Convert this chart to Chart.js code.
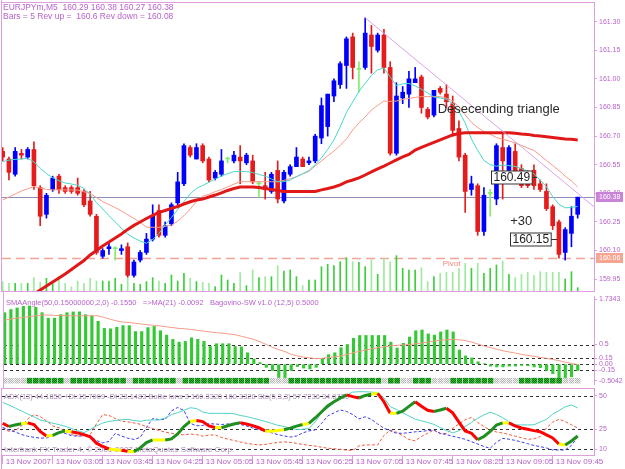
<!DOCTYPE html>
<html>
<head>
<meta charset="utf-8">
<script src="https://cdn.jsdelivr.net/npm/chart.js@4.4.0/dist/chart.umd.min.js"></script>
<style>
  html, body { margin: 0; padding: 0; background: #fff; }
  #wrap { position: relative; width: 625px; height: 469px; overflow: hidden; background: #fff; }
  canvas { position: absolute; left: 0; }
</style>
</head>
<body>
<div id="wrap">
  <canvas id="cMain" width="625" height="292" style="top:0"></canvas>
  <canvas id="cSma" width="625" height="96" style="top:292px"></canvas>
  <canvas id="cAdx" width="625" height="81" style="top:388px"></canvas>
</div>
<script>
// ── EURJPYm M5, 13 Nov 2007: candles + MAs, SMAAngle panel, ADX/Sto panel ──

// Time axis (bar index -> label), one label every 8 bars
const timeTicks  = [0, 8, 16, 24, 32, 40, 48, 56, 64, 72, 80, 88];
const timeLabels = ['13 Nov 2007', '13 Nov 03:05', '13 Nov 03:45', '13 Nov 04:25', '13 Nov 05:05', '13 Nov 05:45',
                    '13 Nov 06:25', '13 Nov 07:05', '13 Nov 07:45', '13 Nov 08:25', '13 Nov 09:05', '13 Nov 09:45'];

// Price axis
const priceTicks = [161.30, 161.15, 161.00, 160.85, 160.70, 160.55, 160.40, 160.25, 160.10, 159.95];
const priceMin = 159.888, priceMax = 161.403;

// OHLC
const opens = [160.62,160.58,160.50,160.61,160.59,160.63,160.43,160.29,160.42,160.49,
  160.43,160.43,160.43,160.41,160.36,160.28,160.07,160.11,160.11,160.10,
  160.12,159.97,160.05,160.09,160.16,160.31,160.18,160.24,160.35,160.45,
  160.64,160.58,160.65,160.58,160.48,160.50,160.58,160.57,160.59,160.56,
  160.57,160.45,160.44,160.41,160.52,160.36,160.50,160.54,160.58,160.56,
  160.57,160.69,160.75,160.91,160.97,161.07,161.22,161.05,161.06,161.23,
  161.15,161.23,161.06,160.61,160.90,160.92,160.98,161.01,160.84,160.81,
  160.95,160.92,160.87,160.74,160.60,160.42,160.44,160.20,160.40,160.37,
  160.64,160.52,160.62,160.53,160.51,160.52,160.45,160.41,160.33,160.25,
  160.09,160.19,160.29];
const highs = [160.64,160.59,160.64,160.63,160.64,160.67,160.44,160.40,160.49,160.50,
  160.44,160.44,160.48,160.42,160.41,160.29,160.11,160.14,160.12,160.13,
  160.14,160.05,160.10,160.19,160.34,160.34,160.25,160.35,160.51,160.66,
  160.65,160.66,160.66,160.59,160.52,160.63,160.59,160.62,160.65,160.61,
  160.60,160.46,160.51,160.51,160.57,160.52,160.55,160.64,160.59,160.59,
  160.71,160.90,160.92,161.00,161.09,161.22,161.24,161.09,161.32,161.28,
  161.24,161.26,161.09,160.98,160.96,161.04,161.06,161.02,160.85,160.94,
  160.96,160.97,160.91,160.78,160.61,160.49,160.45,160.43,160.42,160.66,
  160.72,160.65,160.66,160.55,160.52,160.55,160.47,160.45,160.34,160.26,
  160.22,160.33,160.38];
const lows = [160.57,160.47,160.49,160.58,160.58,160.42,160.23,160.27,160.41,160.40,
  160.40,160.40,160.39,160.33,160.28,160.08,160.06,160.08,160.05,160.08,
  159.96,159.96,160.04,160.08,160.15,160.17,160.17,160.23,160.34,160.44,
  160.59,160.58,160.56,160.46,160.47,160.49,160.56,160.56,160.45,160.55,
  160.45,160.38,160.37,160.40,160.35,160.35,160.49,160.54,160.54,160.55,
  160.56,160.66,160.70,160.88,160.95,160.95,161.00,160.93,161.05,161.03,
  161.14,161.03,160.60,160.60,160.87,160.85,160.98,160.82,160.79,160.80,
  160.92,160.85,160.70,160.57,160.30,160.39,160.18,160.18,160.28,160.34,
  160.37,160.51,160.49,160.43,160.43,160.42,160.41,160.31,160.21,160.06,
  160.05,160.12,160.27];
const closes = [160.59,160.51,160.62,160.60,160.63,160.44,160.28,160.39,160.48,160.42,
  160.41,160.41,160.40,160.34,160.29,160.09,160.10,160.12,160.11,160.11,
  159.97,160.04,160.09,160.16,160.28,160.18,160.23,160.34,160.46,160.65,
  160.60,160.64,160.57,160.47,160.51,160.57,160.58,160.60,160.57,160.60,
  160.46,160.45,160.42,160.50,160.37,160.51,160.54,160.59,160.54,160.57,
  160.70,160.86,160.92,160.99,161.08,161.21,161.06,161.05,161.24,161.17,
  161.23,161.06,160.61,160.91,160.93,161.00,161.00,160.85,160.80,160.94,
  160.93,160.88,160.73,160.59,160.41,160.45,160.20,160.39,160.40,160.65,
  160.57,160.64,160.50,160.44,160.44,160.44,160.42,160.32,160.23,160.08,
  160.21,160.28,160.38];

// Moving averages on price
const maSlow = [null,null,null,null,null,159.872,159.893,159.914,159.935,159.956,
  159.977,160.001,160.024,160.048,160.077,160.100,160.124,160.145,160.166,160.187,
  160.211,160.232,160.250,160.268,160.284,160.300,160.310,160.321,160.331,160.344,
  160.356,160.365,160.370,160.381,160.391,160.402,160.415,160.425,160.433,160.433,
  160.433,160.431,160.425,160.420,160.415,160.410,160.409,160.409,160.409,160.409,
  160.410,160.418,160.425,160.433,160.444,160.460,160.470,160.481,160.496,160.512,
  160.528,160.543,160.559,160.575,160.591,160.604,160.627,160.641,160.654,160.667,
  160.680,160.693,160.706,160.714,160.717,160.718,160.718,160.718,160.718,160.718,
  160.718,160.718,160.715,160.711,160.709,160.703,160.701,160.697,160.693,160.689,
  160.685,160.683,160.680];
const maFast = [160.566,160.574,160.578,160.580,160.583,160.565,160.530,160.504,160.482,160.466,
  160.454,160.449,160.442,160.426,160.394,160.351,160.318,160.283,160.250,160.216,
  160.187,160.166,160.150,160.138,160.158,160.190,160.234,160.273,160.315,160.357,
  160.397,160.426,160.441,160.458,160.475,160.490,160.503,160.514,160.514,160.514,
  160.509,160.499,160.490,160.475,160.461,160.461,160.470,160.487,160.503,160.520,
  160.550,160.585,160.630,160.680,160.748,160.824,160.879,160.934,160.976,161.019,
  161.047,161.057,161.010,160.965,160.974,160.976,160.963,160.946,160.926,160.905,
  160.900,160.893,160.871,160.829,160.769,160.685,160.625,160.572,160.550,160.542,
  160.549,160.545,160.541,160.530,160.516,160.503,160.469,160.435,160.383,160.342,
  160.324,160.326,160.331];
const maMid = [160.365,160.381,160.397,160.412,160.424,160.435,160.428,160.421,160.418,160.418,
  160.418,160.418,160.417,160.408,160.400,160.378,160.357,160.341,160.325,160.308,
  160.288,160.268,160.248,160.223,160.222,160.222,160.227,160.233,160.254,160.283,
  160.317,160.357,160.385,160.395,160.409,160.420,160.434,160.448,160.461,160.461,
  160.461,160.461,160.461,160.461,160.461,160.468,160.477,160.487,160.502,160.515,
  160.544,160.570,160.596,160.622,160.651,160.685,160.732,160.769,160.800,160.837,
  160.861,160.884,160.882,160.884,160.892,160.898,160.903,160.907,160.907,160.907,
  160.907,160.899,160.884,160.853,160.811,160.772,160.745,160.724,160.709,160.693,
  160.683,160.675,160.664,160.651,160.638,160.625,160.599,160.572,160.546,160.520,
  160.490,160.465,160.433];

// Tick volume
const volumes = [28,23,23,23,23,40,26,38,23,43, 23,13,30,23,38,30,30,30,38,20,
  38,23,20,28,40,30,23,48,30,53, 38,28,26,23,13,48,33,23,55,16,
  63,40,43,43,76,60,63,43,16,33, 33,73,80,76,88,100,88,86,73,93,
  50,98,88,106,68,63,63,70,28,43, 53,56,56,68,83,68,83,53,68,78,
  90,50,40,50,56,46,58,56,56,56, 36,58,10];

// Drawn objects on the price chart
const bidPrice = 160.38;
const pivotPrice = 160.06;
const trendFrom = { bar: 58, price: 161.32 };
const trendTo   = { bar: 94.6, price: 160.33 };
const chartNotes = [
  { text: 'Desecending triangle', bar: 69.6, price: 160.842 },
  { text: '+30', bar: 81.2, price: 160.255 }
];
const priceTags = [
  { text: '160.49', bar: 78.2, price: 160.487, toBar: 85.5 },
  { text: '160.15', bar: 81.2, price: 160.161, toBar: 88.7 }
];

// SMAAngle panel
const smaTicks  = [1.7343, 0.5, 0.15, 0, -0.15, -0.5042];
const smaTickLabels = ['1.7343', '0.5', '0.15', '0.00', '-0.15', '-0.5042'];
const smaLevels = [0.5, 0.15, 0, -0.15];
const smaAngle = [1.31,1.39,1.43,1.47,1.48,1.45,1.31,1.17,1.17,1.26,
  1.31,1.33,1.33,1.26,1.23,1.09,0.91,0.90,0.94,0.98,
  0.98,0.83,0.83,0.93,0.96,0.85,0.74,0.63,0.56,0.58,
  0.67,0.63,0.58,0.45,0.52,0.52,0.52,0.45,0.44,0.29,
  0.13,0.04,-0.08,-0.16,-0.34,-0.36,-0.16,-0.06,-0.10,-0.12,
  -0.08,0.14,0.24,0.29,0.42,0.50,0.66,0.73,0.73,0.73,
  0.73,0.73,0.56,0.41,0.53,0.69,0.85,0.87,0.77,0.74,
  0.82,0.87,0.82,0.36,0.21,0.16,0.06,0.01,-0.05,-0.07,
  -0.07,-0.05,-0.05,-0.03,-0.04,-0.07,-0.09,-0.16,-0.24,-0.36,
  -0.37,-0.32,-0.16];
const smaAngleMA = [1.12,1.15,1.17,1.19,1.21,1.23,1.25,1.25,1.24,1.24,
  1.23,1.23,1.23,1.23,1.23,1.23,1.19,1.14,1.10,1.07,
  1.06,1.04,1.02,1.00,0.99,0.97,0.95,0.93,0.91,0.90,
  0.88,0.86,0.84,0.82,0.80,0.79,0.77,0.75,0.71,0.67,
  0.63,0.57,0.50,0.43,0.37,0.32,0.25,0.21,0.18,0.16,
  0.14,0.15,0.17,0.19,0.21,0.25,0.29,0.33,0.36,0.39,
  0.42,0.44,0.47,0.48,0.49,0.50,0.52,0.54,0.56,0.59,
  0.61,0.62,0.63,0.62,0.60,0.56,0.51,0.46,0.42,0.38,
  0.34,0.31,0.28,0.25,0.22,0.20,0.17,0.15,0.12,0.09,
  0.05,0.02,-0.01];
// Bagovino-SW state row (1 = on, 0 = off)
const bagovinoState = [0,0,0,0,1,1,1,1,1,1, 0,1,1,1,1,1,1,1,1,1,
  0,1,1,1,1,1,1,1,0,1, 1,1,1,1,1,1,1,1,1,1,
  1,1,1,0,0,0,1,1,1,1, 1,1,1,1,1,1,1,1,1,1,
  1,0,1,1,0,0,1,1,1,0, 0,0,1,1,1,1,1,1,1,0,
  0,0,0,1,1,1,1,1,1,1, 0,0,0];
const bagovinoLevel = -0.42;

// ADX / Sto panel
const adxTicks = [50, 25, 10];
const adxLevels = [50, 25, 10];
const adxMain = [29.4,27.1,28.3,29.2,29.8,28.6,23.4,20.0,20.4,22.5,
  23.8,23.2,22.3,21.0,19.4,14.6,12.1,10.3,9.7,9.3,
  8.5,8.2,11.0,15.0,17.0,17.0,17.0,17.8,21.5,27.1,
  30.9,31.6,30.8,27.5,26.4,26.2,27.7,29.0,30.0,29.0,
  27.8,26.2,23.8,23.6,24.1,24.7,25.9,27.4,28.6,29.4,
  33.5,38.0,42.5,45.7,48.3,50.8,49.5,48.5,50.4,51.3,
  52.0,45.7,37.0,37.0,38.6,42.2,45.7,42.3,39.3,38.4,
  39.5,40.8,37.3,30.4,23.8,22.1,17.2,19.6,23.4,28.2,
  29.8,29.8,27.5,26.0,25.0,24.0,23.2,20.8,18.5,14.0,
  13.3,16.3,20.0];
const adxSto = [45.1,43.3,41.0,38.8,36.5,34.3,32.0,30.9,29.6,28.5,
  27.3,25.6,23.9,22.5,24.9,27.5,29.7,30.9,31.6,32.2,
  32.5,31.6,31.0,31.8,32.0,32.0,33.5,36.0,37.5,39.3,
  41.2,40.6,38.0,37.0,37.0,37.0,37.0,36.7,35.4,34.6,
  33.4,32.2,30.9,29.5,28.0,27.1,26.0,24.9,25.0,25.6,
  30.5,37.4,41.0,44.8,47.8,50.5,52.9,53.2,53.2,52.9,
  52.6,48.5,42.0,39.9,37.4,35.0,32.6,31.4,30.1,28.7,
  26.3,24.1,22.3,23.9,27.1,30.2,33.3,35.8,37.9,36.1,
  33.7,30.6,28.3,28.3,28.3,28.4,30.4,32.5,36.4,39.1,
  41.9,43.3,41.0];
const diPlus = [26.4,24.5,23.0,21.1,19.8,19.0,18.4,18.5,19.9,23.4,
  21.9,20.2,19.8,20.4,20.0,16.6,14.8,15.9,21.9,20.0,
  18.3,17.4,18.9,26.4,33.1,32.3,32.4,38.8,41.4,39.1,
  29.5,27.7,27.9,29.2,29.0,28.6,29.0,29.4,28.7,27.5,
  26.0,24.7,23.5,22.4,21.1,20.0,19.2,20.0,22.3,23.8,
  24.5,29.4,35.0,37.3,39.5,38.4,36.1,32.8,34.4,32.4,
  29.0,25.8,23.9,22.1,22.0,22.5,23.1,23.5,24.0,24.4,
  22.0,21.0,19.8,18.7,17.5,15.7,14.0,12.1,10.8,15.3,
  18.2,17.6,16.7,15.5,14.2,12.9,12.0,11.0,9.5,9.5,
  9.5,12.9,19.3];
const diMinus = [26.2,23.4,24.1,27.5,32.8,36.0,34.6,31.3,27.5,26.2,
  23.4,21.1,20.2,20.0,21.1,29.0,36.0,35.4,33.1,31.1,
  30.6,29.8,28.8,27.1,25.6,24.1,22.9,22.0,21.2,20.8,
  21.5,21.0,19.9,20.7,20.8,18.9,17.7,16.6,15.5,14.5,
  13.8,13.3,13.6,14.5,15.1,15.6,15.2,14.5,13.6,13.0,
  12.4,11.6,10.8,10.4,10.0,9.4,9.1,12.5,13.3,13.3,
  13.3,20.4,24.4,22.8,20.3,17.4,16.3,19.6,22.1,24.4,
  21.7,21.9,25.6,29.0,32.2,33.9,30.1,27.1,24.4,23.0,
  22.2,21.1,19.9,18.7,17.5,17.9,19.5,26.0,30.4,32.5,
  30.8,28.4,26.0];

// ── shared look ──
const FONT = "'Liberation Sans', Arial, sans-serif";
const PLUM = '#dda0dd';
const VIOLET = '#b862cc';
const BAR_MIN = -0.11, BAR_MAX = 94.61;
Chart.defaults.font.family = FONT;
Chart.defaults.animation = false;
Chart.defaults.plugins.legend.display = false;
Chart.defaults.plugins.tooltip.enabled = false;

const pts = arr => arr.map((v, i) => ({ x: i, y: v }));
const dir = i => Math.sign(closes[i] - opens[i]);
const candleColor = i => dir(i) > 0 ? '#0000ff' : dir(i) < 0 ? '#e41c1c' : '#80ee66';

function text(ctx, str, x, y, size, color, align) {
  ctx.font = size + 'px ' + FONT;
  ctx.fillStyle = color;
  ctx.textAlign = align || 'left';
  ctx.textBaseline = 'middle';
  ctx.fillText(str, x, y);
}

function barAxis(extra) {
  return Object.assign({ type: 'linear', min: BAR_MIN, max: BAR_MAX, offset: false, display: false,
    grid: { offset: false } }, extra || {});
}

function rightAxis(min, max, values, labels, edge) {
  return {
    position: 'right', min, max, beginAtZero: false,
    afterFit: s => { s.width = 31; s.paddingTop = 0; s.paddingBottom = 0; },
    afterBuildTicks: s => {
      s.ticks = values.map(v => ({ value: Math.max(min + edge, Math.min(max - edge, v)) }));
    },
    border: { display: true, color: PLUM },
    grid: { drawOnChartArea: false, drawTicks: true, tickLength: 3, color: PLUM },
    ticks: { autoSkip: false, padding: 2, color: VIOLET, font: { size: 7 },
      callback: (v, i) => labels[i] }
  };
}

function checker(c1, c2) {
  const p = document.createElement('canvas');
  p.width = p.height = 2;
  const g = p.getContext('2d');
  g.fillStyle = c1; g.fillRect(0, 0, 2, 2);
  g.fillStyle = c2; g.fillRect(0, 0, 1, 1); g.fillRect(1, 1, 1, 1);
  return g.createPattern(p, 'repeat');
}

// panel frame: left edge + optional top / bottom rule
const frame = {
  id: 'frame',
  afterDraw(chart, args, o) {
    const { ctx, chartArea: a } = chart;
    ctx.save();
    ctx.strokeStyle = PLUM; ctx.lineWidth = 1;
    ctx.beginPath();
    ctx.moveTo(a.left - 0.5, 0); ctx.lineTo(a.left - 0.5, chart.height);
    if (o.top) { ctx.moveTo(a.left, a.top + 0.5); ctx.lineTo(a.right, a.top + 0.5); }
    if (o.bottom) { ctx.moveTo(a.left, a.bottom + 0.5); ctx.lineTo(a.right, a.bottom + 0.5); }
    ctx.stroke();
    ctx.restore();
  }
};

function levelLines(chart, levels, color) {
  const { ctx, chartArea: a, scales: { y } } = chart;
  ctx.save();
  ctx.strokeStyle = color; ctx.lineWidth = 1; ctx.setLineDash([3, 3]);
  levels.forEach(v => {
    const py = Math.round(y.getPixelForValue(v)) + 0.5;
    ctx.beginPath(); ctx.moveTo(a.left, py); ctx.lineTo(a.right, py); ctx.stroke();
  });
  ctx.restore();
}

// ── price chart ──
const mainMarks = {
  id: 'mainMarks',
  beforeDatasetsDraw(chart) {
    const { ctx, chartArea: a, scales: { y } } = chart;
    ctx.save();
    const yb = Math.round(y.getPixelForValue(bidPrice)) + 0.5;
    ctx.strokeStyle = '#8e8eba'; ctx.lineWidth = 1;
    ctx.beginPath(); ctx.moveTo(a.left, yb); ctx.lineTo(a.right, yb); ctx.stroke();
    const yp = Math.round(y.getPixelForValue(pivotPrice)) + 0.5;
    ctx.strokeStyle = '#f3a493'; ctx.lineWidth = 1.5; ctx.setLineDash([9, 5]);
    ctx.beginPath(); ctx.moveTo(a.left, yp); ctx.lineTo(a.right, yp); ctx.stroke();
    ctx.restore();
  },
  afterDatasetsDraw(chart) {
    const { ctx, chartArea: a, scales: { x, y } } = chart;
    ctx.save();
    ctx.beginPath(); ctx.rect(a.left, a.top, a.right - a.left, a.bottom - a.top); ctx.clip();
    // descending trend line
    ctx.strokeStyle = '#d9a3e3'; ctx.lineWidth = 1;
    ctx.beginPath();
    ctx.moveTo(x.getPixelForValue(trendFrom.bar), y.getPixelForValue(trendFrom.price));
    ctx.lineTo(x.getPixelForValue(trendTo.bar), y.getPixelForValue(trendTo.price));
    ctx.stroke();
    // pivot label
    text(ctx, 'Pivot', x.getPixelForValue(70.4), y.getPixelForValue(pivotPrice) + 6, 8, '#f08a7a');
    // chart notes
    chartNotes.forEach(n => text(ctx, n.text, x.getPixelForValue(n.bar), y.getPixelForValue(n.price), 13, '#2a2a2a'));
    // price tags
    priceTags.forEach(t => {
      ctx.font = '12px ' + FONT;
      const w = ctx.measureText(t.text).width + 4;
      const bx = Math.round(x.getPixelForValue(t.bar)) + 0.5;
      const by = Math.round(y.getPixelForValue(t.price)) + 0.5;
      ctx.fillStyle = '#fff'; ctx.fillRect(bx, by - 6.5, w, 13);
      ctx.strokeStyle = '#333'; ctx.lineWidth = 1; ctx.strokeRect(bx, by - 6.5, w, 13);
      text(ctx, t.text, bx + 2, by + 0.5, 12, '#222');
      ctx.beginPath(); ctx.moveTo(bx + w, by); ctx.lineTo(x.getPixelForValue(t.toBar), by); ctx.stroke();
    });
    ctx.restore();
    // header
    ctx.save();
    text(ctx, 'EURJPYm,M5  160.29 160.38 160.27 160.38', a.left + 1, a.top + 5.5, 8.5, VIOLET);
    text(ctx, 'Bars = 5 Rev up =  160.6 Rev down = 160.08', a.left + 1, a.top + 14.5, 8.5, VIOLET);
    ctx.restore();
  },
  afterDraw(chart) {
    const { ctx, chartArea: a, scales: { y } } = chart;
    ctx.save();
    [[bidPrice, '#c984da'], [pivotPrice, '#f5a590']].forEach(([p, fill]) => {
      const py = Math.round(y.getPixelForValue(p));
      ctx.fillStyle = fill; ctx.fillRect(a.right + 2, py - 5, 27, 10);
      text(ctx, p.toFixed(2), a.right + 5, py + 0.5, 7, '#fff');
    });
    ctx.restore();
  }
};

new Chart(document.getElementById('cMain'), {
  type: 'bar',
  data: {
    datasets: [
      { type: 'line', data: pts(maSlow), borderColor: '#e01818', borderWidth: 3, pointRadius: 0, order: 1 },
      { type: 'line', data: pts(maFast), borderColor: '#48d8c8', borderWidth: 1, pointRadius: 0, order: 1 },
      { type: 'line', data: pts(maMid), borderColor: '#f79a86', borderWidth: 1, pointRadius: 0, order: 1 },
      { data: opens.map((o, i) => ({ x: i, y: [o, closes[i]] })), backgroundColor: opens.map((o, i) => candleColor(i)),
        barThickness: 4, minBarLength: 1, grouped: false, order: 2 },
      { data: opens.map((o, i) => ({ x: i, y: [lows[i], highs[i]] })), backgroundColor: opens.map((o, i) => candleColor(i)),
        barThickness: 1, grouped: false, order: 3 },
      { data: pts(volumes), yAxisID: 'yv', backgroundColor: opens.map((o, i) => dir(i) < 0 ? '#9eea9e' : '#3ccf3c'),
        barThickness: 1, grouped: false, order: 4 }
    ]
  },
  options: {
    responsive: false,
    layout: { padding: { left: 2, top: 2, right: 0, bottom: 1 } },
    scales: {
      x: barAxis(),
      y: rightAxis(priceMin, priceMax, priceTicks, priceTicks.map(v => v.toFixed(2)), 0),
      yv: { display: false, min: 0, max: 867 }
    },
    plugins: { frame: { top: true, bottom: true } }
  },
  plugins: [mainMarks, frame]
});

// ── SMAAngle panel ──
const greenCheck = checker('#007400', '#3cb83c');
const grayCheck = checker('#b4b4b4', '#f0f0f0');
const smaMarks = {
  id: 'smaMarks',
  beforeDatasetsDraw(chart) {
    levelLines(chart, smaLevels, '#333');
    const a = chart.chartArea;
    text(chart.ctx, 'SMAAngle(50,0.15000000,2,0) -0.1550   =>MA(21) -0.0092   Bagovino-SW v1.0 (12,5) 0.5000',
      a.left + 2, a.top + 7, 7.5, VIOLET);
  }
};
new Chart(document.getElementById('cSma'), {
  type: 'bar',
  data: {
    datasets: [
      { type: 'line', data: pts(smaAngleMA), borderColor: '#f79a86', borderWidth: 1, pointRadius: 0, order: 1 },
      { data: pts(smaAngle), backgroundColor: '#35c835', barThickness: 2.5, grouped: false, order: 3 },
      { type: 'line', showLine: false, data: pts(bagovinoState.map(() => bagovinoLevel)),
        pointStyle: 'rect', pointRadius: 4, pointBorderWidth: 0,
        pointBackgroundColor: bagovinoState.map(s => s ? greenCheck : grayCheck), order: 0 }
    ]
  },
  options: {
    responsive: false,
    layout: { padding: { left: 2, top: 0, right: 0, bottom: 2 } },
    scales: {
      x: barAxis(),
      y: rightAxis(-0.5042, 1.7343, smaTicks, smaTickLabels, 0.08)
    },
    plugins: { frame: {} }
  },
  plugins: [smaMarks, frame]
});

// ── ADX / Sto panel ──
const adxMarks = {
  id: 'adxMarks',
  beforeDatasetsDraw(chart) {
    levelLines(chart, adxLevels, '#333');
    const { ctx, chartArea: a } = chart;
    text(ctx, 'ADX(13) 44.1856 +DI:15.7009 -DI:23.1483 Bollie lons 3 160.3320 160.3320 Sto(5,3,3) 57.7236 34.0730',
      a.left + 2, a.top + 8.5, 7.5, '#a98bb8');
    text(ctx, 'Interbank FX Trader 4, © 2001-2007 MetaQuotes Software Corp.', a.left + 2, a.bottom - 5.5, 8, '#a98bb8');
  }
};
new Chart(document.getElementById('cAdx'), {
  type: 'line',
  data: {
    datasets: [
      { data: pts(diMinus), borderColor: '#f25a3c', borderWidth: 1, borderDash: [3, 2], pointRadius: 0, order: 4 },
      { data: pts(diPlus), borderColor: '#3a3af0', borderWidth: 1, borderDash: [3, 2], pointRadius: 0, order: 3 },
      { data: pts(adxSto), borderColor: '#4fd3c4', borderWidth: 1, pointRadius: 0, order: 2 },
      { data: pts(adxMain), borderWidth: 3, pointRadius: 0, order: 1,
        segment: { borderColor: c => {
          const d = c.p1.parsed.y - c.p0.parsed.y;
          return d > 0.8 ? '#1f8f1f' : d < -0.8 ? '#ff0000' : '#ffff00';
        } } }
    ]
  },
  options: {
    responsive: false,
    layout: { padding: { left: 2, top: 0, right: 0, bottom: 0 } },
    scales: {
      x: barAxis({
        display: true,
        afterFit: s => { s.height = 14; s.paddingLeft = 0; s.paddingRight = 0; },
        afterBuildTicks: s => { s.ticks = timeTicks.map(v => ({ value: v })); },
        border: { display: true, color: PLUM },
        grid: { offset: false, drawOnChartArea: false, drawTicks: true, tickLength: 9, color: PLUM },
        ticks: { autoSkip: false, maxRotation: 0, minRotation: 0, align: 'start', labelOffset: 3, padding: -7,
          color: VIOLET, font: { size: 8 }, callback: (v, i) => timeLabels[i] }
      }),
      y: rightAxis(5.72, 56.0, adxTicks, adxTicks.map(String), 0)
    },
    plugins: { frame: { top: true } }
  },
  plugins: [adxMarks, frame]
});
</script>
</body>
</html>
